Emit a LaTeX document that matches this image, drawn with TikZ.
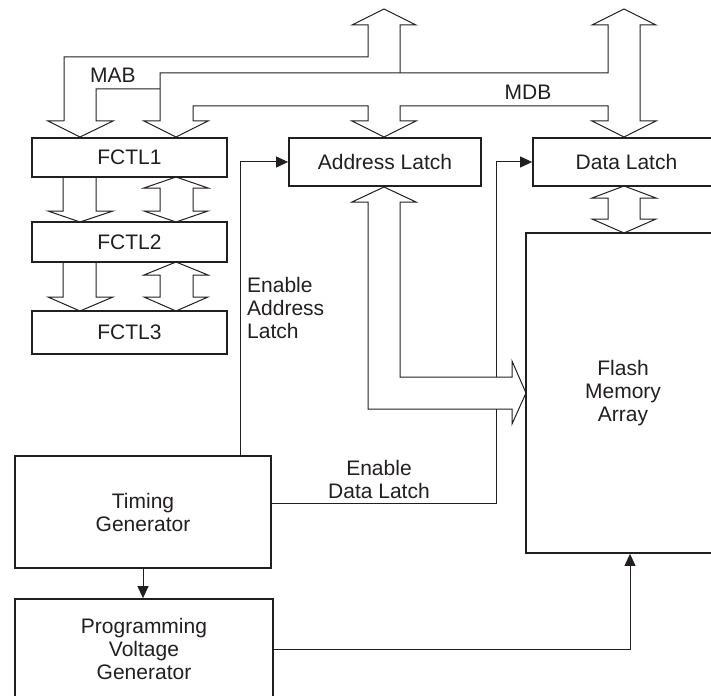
\documentclass[tikz,border=0pt]{standalone}
\usepackage{fontspec}
\setmainfont{Liberation Sans}
\usetikzlibrary{arrows.meta}
\definecolor{ink}{RGB}{35,31,32}
\pgfdeclarelayer{bg}
\pgfsetlayers{bg,main}
\begin{document}
\begin{tikzpicture}[x=1pt,y=-1pt,
  box/.style={draw=ink,line width=1.8pt,fill=white,inner sep=0pt,align=center,text=ink,font=\fontsize{21}{23}\selectfont},
  lbl/.style={text=ink,font=\fontsize{21}{23}\selectfont,inner sep=0pt},
  bus/.style={draw=ink,line width=1pt,fill=white,line join=miter},
  busline/.style={draw=ink,line width=1pt,line join=miter},
  sig/.style={draw=ink,line width=1pt,-{Triangle[length=12pt,width=11pt]}}]
\useasboundingbox (0,0) rectangle (711,695);

% boxes
\node[box,minimum width=195,minimum height=39] (f1) at (129.5,157.5) {FCTL1};
\node[box,minimum width=195,minimum height=40] (f2) at (129.5,242) {FCTL2};
\node[box,minimum width=195,minimum height=43] (f3) at (129.5,332.5) {FCTL3};
\node[box,minimum width=192,minimum height=48] (al) at (385,162) {Address Latch};
\node[box,minimum width=187,minimum height=48] (dl) at (626.5,162) {Data Latch};
\node[box,minimum width=194,minimum height=320] (fl) at (623,393) {Flash\\Memory\\Array};
\node[box,minimum width=256,minimum height=112] (tg) at (143,512) {Timing\\Generator};
\node[box,minimum width=258,minimum height=100] (pvg) at (144,649) {Programming\\Voltage\\Generator};

% labels
\node[lbl] (mab) at (113,75) {MAB};
\node[lbl] (mdb) at (528,92) {MDB};
\node[lbl,anchor=west,align=left] (eal) at (247,308) {Enable\\Address\\Latch};
\node[lbl,align=center] (edl) at (379,479) {Enable\\Data Latch};

\coordinate (edx) at (496,503);

\begin{pgfonlayer}{bg}
% control signals
\draw[sig] ([xshift=-31pt]tg.north east) |- (al.west);
\draw[sig] (tg.east |- edx) -- (edx) |- (dl.west);
\draw[sig] (tg.south) -- (tg.south |- pvg.north);
\draw[sig] (pvg.east) -| ([xshift=7pt]fl.south);

% MAB / MDB buses
\draw[busline] (64,121) -- (48,121) -- (80,137) -- (113,121) -- (96,121) -- (96,89) -- (160,89);
\draw[busline] (64,121) -- (64,57) -- (368,57) -- (368,25) -- (352,25) -- (384,9) -- (416,25) -- (400,25) -- (400,73);
\draw[bus] (160,73) -- (608,73) -- (608,25) -- (592,25) -- (624,9) -- (656,25) -- (640,25)
  -- (640,121) -- (656,121) -- (624,137) -- (592,121) -- (608,121) -- (608,106)
  -- (400,106) -- (400,121) -- (416,121) -- (384,137) -- (352,121) -- (368,121) -- (368,106)
  -- (193,106) -- (193,121) -- (208,121) -- (176,137) -- (144,121) -- (160,121) -- cycle;

% FCTL links
\draw[bus] (63,177) -- (63,211) -- (48,211) -- (80,222) -- (113,211) -- (96,211) -- (96,177);
\draw[bus] (176,177) -- (208,188) -- (193,188) -- (193,211) -- (208,211) -- (176,222) -- (144,211) -- (160,211) -- (160,188) -- (144,188) -- cycle;
\draw[bus] (63,262) -- (63,297) -- (48,297) -- (80,311) -- (113,297) -- (96,297) -- (96,262);
\draw[bus] (176,262) -- (208,275) -- (193,275) -- (193,297) -- (208,297) -- (176,311) -- (144,297) -- (160,297) -- (160,275) -- (144,275) -- cycle;

% latch to flash buses
\draw[bus] (384,187) -- (416,202) -- (400,202) -- (400,377) -- (512,377) -- (512,361) -- (526,393)
  -- (512,424) -- (512,409) -- (368,409) -- (368,202) -- (352,202) -- cycle;
\draw[bus] (624,186) -- (656,198) -- (640,198) -- (640,219) -- (656,219) -- (624,233) -- (592,219) -- (608,219) -- (608,198) -- (592,198) -- cycle;
\end{pgfonlayer}
\end{tikzpicture}
\end{document}
